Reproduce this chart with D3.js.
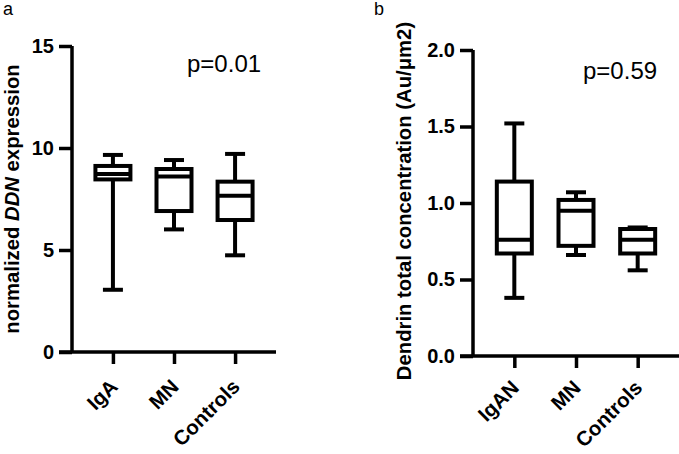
<!DOCTYPE html>
<html><head><meta charset="utf-8">
<script src="https://cdn.jsdelivr.net/npm/d3@7"></script>
<style>body{margin:0;background:#fff}svg{display:block}text{font-family:"Liberation Sans",Arial,sans-serif}</style>
</head><body><svg id="c" width="679" height="454"></svg>
<script>
// Panel a data
const catsA = ["IgA", "MN", "Controls"];
const minA = [3.05, 6.01, 4.74];
const q1A = [8.46, 6.91, 6.47];
const medA = [8.72, 8.6, 7.66];
const q3A = [9.12, 8.97, 8.35];
const maxA = [9.66, 9.41, 9.71];
const ticksA = [0, 5, 10, 15];
// Panel b data
const catsB = ["IgAN", "MN", "Controls"];
const minB = [0.38, 0.66, 0.56];
const q1B = [0.67, 0.72, 0.67];
const medB = [0.76, 0.95, 0.76];
const q3B = [1.14, 1.02, 0.83];
const maxB = [1.52, 1.07, 0.84];
const ticksB = [0, 0.5, 1.0, 1.5, 2.0];

const svg = d3.select("#c");

function panel(o) {
  const g = svg.append("g");
  const x = d3.scalePoint().domain(o.cats).range([o.x0, o.x1]).padding(0.67);
  const y = d3.scaleLinear().domain(o.domain).range([o.y0, o.y1]);
  // y axis
  const ya = g.append("g").attr("transform", `translate(${o.x0},0)`)
    .call(d3.axisLeft(y).tickValues(o.ticks).tickFormat(o.fmt).tickSize(13).tickPadding(5));
  ya.select(".domain").attr("stroke-width", 3.5).attr("d", `M0,${o.y0}V${o.y1}`);
  ya.selectAll(".tick line").attr("stroke-width", 3.5);
  ya.selectAll(".tick text").attr("font-size", 20).attr("font-weight", "bold").attr("fill", "#000")
    .attr("font-family", '"Liberation Sans",Arial,sans-serif');
  // x axis
  const xa = g.append("g").attr("transform", `translate(0,${o.y0})`)
    .call(d3.axisBottom(x).tickSize(12).tickFormat(""));
  xa.select(".domain").attr("stroke-width", 3.5).attr("d", `M${o.x0 - 13},0H${o.x1}`);
  xa.selectAll(".tick line").attr("stroke-width", 3.5);
  // category labels
  g.selectAll(".cl").data(o.cats).enter().append("text")
    .attr("transform", d => `translate(${x(d) + 6},${o.y0 + o.catDy}) rotate(-45)`)
    .attr("text-anchor", "end").attr("font-size", 20.5).attr("font-weight", "bold").text(d => d);
  // boxes
  const bw = 35, cw = 20;
  o.cats.forEach((c, i) => {
    const cx = x(c);
    const ln = (x1, y1, x2, y2) => g.append("line").attr("x1", x1).attr("y1", y1).attr("x2", x2).attr("y2", y2)
      .attr("stroke", "#000").attr("stroke-width", 4);
    ln(cx, y(o.max[i]), cx, y(o.q3[i]));
    ln(cx, y(o.q1[i]), cx, y(o.min[i]));
    ln(cx - cw / 2, y(o.max[i]), cx + cw / 2, y(o.max[i]));
    ln(cx - cw / 2, y(o.min[i]), cx + cw / 2, y(o.min[i]));
    g.append("rect").attr("x", cx - bw / 2).attr("y", y(o.q3[i])).attr("width", bw)
      .attr("height", y(o.q1[i]) - y(o.q3[i])).attr("fill", "#fff").attr("stroke", "#000").attr("stroke-width", 4);
    ln(cx - bw / 2, y(o.med[i]), cx + bw / 2, y(o.med[i]));
  });
  // y label
  const yl = g.append("text").attr("transform", `translate(${o.labX},${(o.y0 + o.y1) / 2 + o.labDy}) rotate(-90)`)
    .attr("text-anchor", "middle").attr("font-size", 20.3).attr("font-weight", "bold");
  o.label.forEach(p => yl.append("tspan").attr("font-style", p.i ? "italic" : null).text(p.t));
  // p text
  g.append("text").attr("x", o.px).attr("y", o.py).attr("font-size", 24).text(o.ptext);
  // panel letter
  g.append("text").attr("x", o.lx).attr("y", 15).attr("font-size", 18).text(o.letter);
}

panel({cats: catsA, min: minA, q1: q1A, med: medA, q3: q3A, max: maxA, ticks: ticksA,
  domain: [0, 15], x0: 72, x1: 276, y0: 352, y1: 46, fmt: d3.format("d"), catDy: 36,
  label: [{t: "normalized "}, {t: "DDN", i: true}, {t: " expression"}], labX: 19, labDy: 0,
  px: 187, py: 72, ptext: "p=0.01", lx: 3, letter: "a"});
panel({cats: catsB, min: minB, q1: q1B, med: medB, q3: q3B, max: maxB, ticks: ticksB,
  domain: [0, 2], x0: 473, x1: 679, y0: 356, y1: 50, fmt: d3.format(".1f"), catDy: 33,
  label: [{t: "Dendrin total concentration (Au/μm2)"}], labX: 411, labDy: -2,
  px: 583, py: 79, ptext: "p=0.59", lx: 374, letter: "b"});
</script></body></html>
